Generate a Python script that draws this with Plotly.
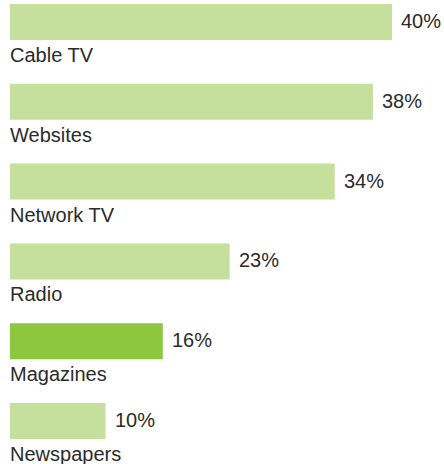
import plotly.graph_objects as go

categories = ["Cable TV", "Websites", "Network TV", "Radio", "Magazines", "Newspapers"]
values = [40, 38, 34, 23, 16, 10]
value_labels = ["40%", "38%", "34%", "23%", "16%", "10%"]
highlight = "Magazines"

LIGHT = "#c5df9d"
DARK = "#8dc63f"
TEXT = "#2b2b2b"
FONT = "Liberation Sans, Arial, sans-serif"

idx = list(range(len(categories)))
colors = [DARK if c == highlight else LIGHT for c in categories]

fig = go.Figure(go.Bar(
    x=values, y=idx, orientation="h",
    marker=dict(color=colors, line=dict(width=0)),
    width=0.451, hoverinfo="skip",
))

annotations = []
for i, (c, v, lab) in enumerate(zip(categories, values, value_labels)):
    annotations.append(dict(x=v, y=i, text=lab, showarrow=False, xanchor="left",
                            yanchor="middle", xshift=7, yshift=1,
                            font=dict(family=FONT, size=20, color=TEXT)))
    annotations.append(dict(x=0, y=i, text=c, showarrow=False, xanchor="left",
                            yanchor="middle", xshift=-2, yshift=-33,
                            font=dict(family=FONT, size=20, color=TEXT)))

fig.update_layout(
    width=444, height=464,
    margin=dict(l=0, r=0, t=0, b=0),
    paper_bgcolor="white", plot_bgcolor="white",
    showlegend=False,
    xaxis=dict(range=[-1.047, 45.445], visible=False, fixedrange=True),
    yaxis=dict(range=[5.539, -0.2757], visible=False, fixedrange=True),
    annotations=annotations,
)

fig.write_html(
    "out.html",
    config={"displayModeBar": False},
    post_script="document.body.style.margin='0';document.body.style.overflow='hidden';",
)
